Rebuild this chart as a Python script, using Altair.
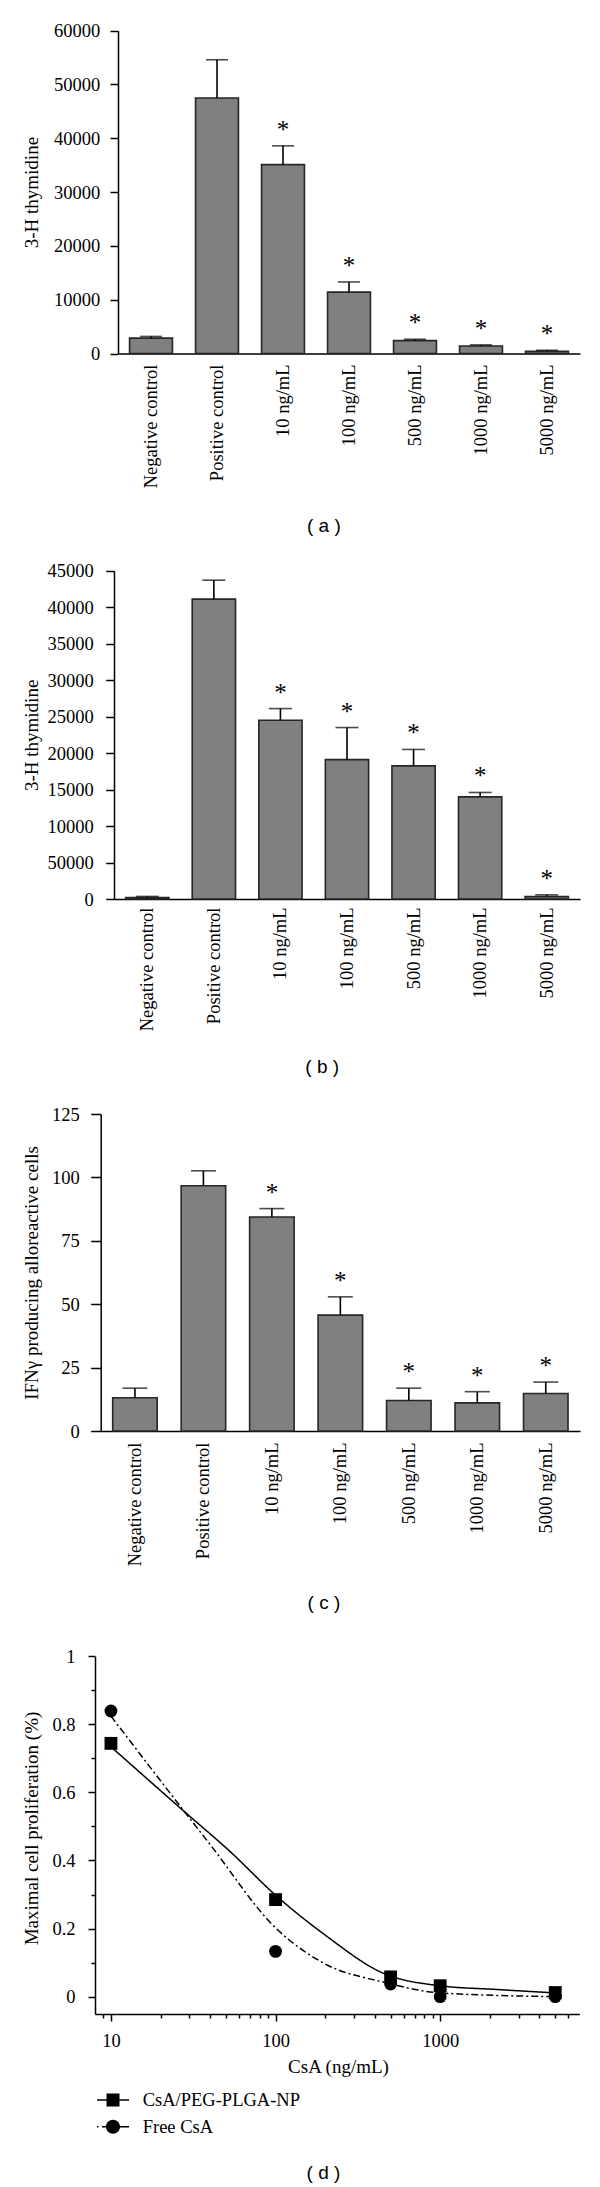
import altair as alt
import pandas as pd

SERIF = "Liberation Serif"
SANS = "Liberation Sans"
M = 8            # page margin
W, H = 584, 2177  # drawing area

# ---------------- data ----------------
categories = ["Negative control", "Positive control", "10 ng/mL", "100 ng/mL",
              "500 ng/mL", "1000 ng/mL", "5000 ng/mL"]
significant = [False, False, True, True, True, True, True]

a_mean = [2850, 47500, 35100, 11400, 2400, 1400, 400]
a_err = [3170, 54600, 38600, 13300, 2650, 1600, 600]
a_ticks = [0, 10000, 20000, 30000, 40000, 50000, 60000]

b_mean = [200, 41100, 24500, 19100, 18250, 14000, 330]
b_err = [350, 43700, 26100, 23500, 20500, 14600, 570]
b_ticks = [0, 5000, 10000, 15000, 20000, 25000, 30000, 35000, 40000, 45000]

c_mean = [13.1, 96.7, 84.4, 45.7, 12.0, 11.1, 14.8]
c_err = [16.9, 102.6, 87.7, 52.9, 16.9, 15.5, 19.3]
c_ticks = [0, 25, 50, 75, 100, 125]

series = ["CsA/PEG-PLGA-NP", "Free CsA"]
d_conc = [10, 100, 500, 1000, 5000]
d_np = [0.744, 0.285, 0.058, 0.032, 0.012]
d_free = [0.839, 0.133, 0.037, 0.0, 0.0]
np_curve_conc = [10, 28, 53, 100, 200, 450, 1000, 2200, 5000]
np_curve_val = [0.734, 0.543, 0.426, 0.298, 0.181, 0.069, 0.032, 0.021, 0.011]
free_curve_conc = [10, 28, 40, 100, 200, 450, 1000, 5000]
free_curve_val = [0.824, 0.543, 0.447, 0.202, 0.096, 0.043, 0.011, 0.0]

d_x_ticks = [9, 10, 20, 30, 40, 50, 60, 70, 80, 90, 100, 200, 300, 400, 500, 600,
             700, 800, 900, 1000, 2000, 3000, 4000, 5000, 6000]
d_y_ticks = [0, 0.1, 0.2, 0.3, 0.4, 0.5, 0.6, 0.7, 0.8, 0.9, 1.0]


def bar_panel(means, errs, ticks, ytitle, letter, axis_x, end_x, top_y, zero_y, letter_x,
              letter_y, cap, label_pad, ytick, ylabel_pad, ylabel_expr=None):
    df = pd.DataFrame({"group": categories, "mean": means, "err": errs, "sig": significant})
    xsc = alt.Scale(range=[axis_x - M, end_x - M], paddingInner=0.35, paddingOuter=0.175)
    ysc = alt.Scale(domain=[0, ticks[-1]], nice=False, range=[zero_y - M, top_y - M])
    xax = alt.Axis(orient="bottom", offset=(zero_y - M) - H,
                   title=letter, titleX=letter_x - M, titleY=letter_y - zero_y,
                   titleFont=SANS, titleFontSize=19, titleFontWeight="normal",
                   titleColor="black", titleBaseline="middle", titleAlign="center",
                   labelAngle=-90, ticks=False, labelPadding=label_pad,
                   labelFont=SERIF, labelFontSize=18.5, labelColor="black",
                   domainColor="black", domainWidth=1.5, labelLimit=300, grid=False)
    ykw = dict(orient="left", offset=-(axis_x - M), title=ytitle, values=ticks, format="d",
               tickSize=ytick, tickWidth=1.5, tickColor="black", domainColor="black",
               domainWidth=1.5, labelPadding=ylabel_pad,
               labelFont=SERIF, labelFontSize=18.5, labelColor="black",
               titleFont=SERIF, titleFontSize=19, titleFontWeight="normal", titleColor="black",
               titleX=31 - axis_x, titleBaseline="middle", grid=False)
    if ylabel_expr:
        ykw["labelExpr"] = ylabel_expr
    yax = alt.Axis(**ykw)
    base = alt.Chart(df).encode(x=alt.X("group:N", sort=categories, scale=xsc, axis=xax))
    bars = base.mark_bar(color="#808080", stroke="#262626", strokeWidth=1.6).encode(
        y=alt.Y("mean:Q", scale=ysc, axis=yax))
    whisk = base.mark_rule(color="black", strokeWidth=1.6).encode(
        y=alt.Y("mean:Q", scale=ysc, axis=yax), y2="err:Q")
    caps = base.mark_tick(color="black", size=cap, thickness=1.6).encode(
        y=alt.Y("err:Q", scale=ysc, axis=yax))
    stars = base.transform_filter("datum.sig").mark_text(
        text="*", font=SERIF, fontSize=25, baseline="alphabetic", dy=-8, color="black").encode(
        y=alt.Y("err:Q", scale=ysc, axis=yax))
    return alt.layer(bars, whisk, caps, stars)


panel_a = bar_panel(a_mean, a_err, a_ticks, "3-H thymidine", "( a )",
                    118, 580, 30.7, 353.5, 323.4, 525, 22, 10.5, 8, 10.3)
panel_b = bar_panel(b_mean, b_err, b_ticks, "3-H thymidine", "( b )",
                    114, 580, 570.7, 899, 321.7, 1066.7, 23, 8, 8.3, 12.4,
                    ylabel_expr="datum.value == 5000 ? '50000' : format(datum.value, 'd')")
panel_c = bar_panel(c_mean, c_err, c_ticks, "IFNγ producing alloreactive cells", "( c )",
                    100.7, 580, 1114, 1431, 323.4, 1602, 25, 11, 10, 11.4)

# ---------------- panel d ----------------
pts_df = pd.DataFrame({"conc": d_conc + d_conc, "val": d_np + d_free,
                       "series": [series[0]] * len(d_conc) + [series[1]] * len(d_conc)})
curve_df = pd.DataFrame({"conc": np_curve_conc + free_curve_conc,
                         "val": np_curve_val + free_curve_val,
                         "series": [series[0]] * len(np_curve_conc) + [series[1]] * len(free_curve_conc)})

d_axis_x, d_end_x, d_top_y, d_bot_y = 95, 579.3, 1656.2, 2014
xsc = alt.Scale(type="log", domain=[8, 7000], nice=False, range=[d_axis_x - M, d_end_x - M])
ysc = alt.Scale(domain=[-0.051, 1], nice=False, zero=False, range=[d_bot_y - M, d_top_y - M])
major_x = "indexof([10,100,1000], datum.value) >= 0"
major_y = "round(datum.value*10) % 2 == 0"
xax = alt.Axis(orient="bottom", offset=(d_bot_y - M) - H,
               title="CsA (ng/mL)", titleX=338 - M, titleY=2066.7 - d_bot_y,
               titleBaseline="middle", titleAlign="center", values=d_x_ticks,
               labelExpr=major_x + " ? format(datum.value, 'd') : ''",
               tickSize={"condition": {"test": major_x, "value": 7}, "value": 4},
               tickWidth=1.5, tickColor="black", domainColor="black", domainWidth=1.5,
               labelBaseline="middle", labelPadding=19, labelFont=SERIF, labelFontSize=18.5,
               labelColor="black", titleFont=SERIF, titleFontSize=19, titleFontWeight="normal",
               titleColor="black", grid=False, labelFlush=False, labelOverlap=False)
yax = alt.Axis(orient="left", offset=-(d_axis_x - M),
               title="Maximal cell proliferation (%)", values=d_y_ticks,
               labelExpr=major_y + " ? format(datum.value, '~g') : ''",
               tickSize={"condition": {"test": major_y, "value": 7}, "value": 4},
               tickWidth=1.5, tickColor="black", domainColor="black", domainWidth=1.5,
               labelPadding=13, labelFont=SERIF, labelFontSize=18.5, labelColor="black",
               titleFont=SERIF, titleFontSize=19, titleFontWeight="normal", titleColor="black",
               titleX=31 - d_axis_x, titleY=1828 - M, titleBaseline="middle", grid=False,
               labelOverlap=False)
xenc = alt.X("conc:Q", scale=xsc, axis=xax)
yenc = alt.Y("val:Q", scale=ysc, axis=yax)

lines = alt.Chart(curve_df).mark_line(color="black", strokeWidth=1.5, interpolate="monotone").encode(
    x=xenc, y=yenc,
    strokeDash=alt.StrokeDash("series:N", scale=alt.Scale(domain=series, range=[[1, 0], [7, 3, 2, 3]]),
                              legend=None))
points = alt.Chart(pts_df).mark_point(filled=True, color="black", size=165, opacity=1).encode(
    x=xenc, y=yenc,
    shape=alt.Shape("series:N", scale=alt.Scale(domain=series, range=["square", "circle"]),
                    legend=None))

PATH_SQ = "M-1.6,-0.075H1.6V0.075H-1.6Z M-0.65,-0.65H0.65V0.65H-0.65Z"
PATH_CI = ("M-1.6,-0.075H-1.45V0.075H-1.6Z M-1.1,-0.075H1.6V0.075H-1.1Z "
           "M-0.7,0A0.7,0.7,0,1,1,0.7,0A0.7,0.7,0,1,1,-0.7,0Z")
xsc_lab = alt.Scale(type="log", domain=[8, 7000], nice=False, range=[d_axis_x - M, d_end_x - M])
xax_lab = alt.Axis(orient="bottom", offset=(d_bot_y - M) - H, title="( d )",
                   titleX=323 - M, titleY=2172 - d_bot_y, titleBaseline="middle",
                   titleAlign="center", titleFont=SANS, titleFontSize=19,
                   titleFontWeight="normal", titleColor="black",
                   domain=False, ticks=False, labels=False, grid=False)
legend_layer = alt.Chart(pts_df).transform_filter("false").mark_point(
    filled=True, color="black", opacity=1).encode(
    x=alt.X("conc:Q", scale=xsc_lab, axis=xax_lab), y=yenc,
    shape=alt.Shape("series:N", scale=alt.Scale(domain=series, range=[PATH_SQ, PATH_CI]),
                    legend=alt.Legend(title=None, orient="none", legendX=113 - 10 - M,
                                      legendY=2100 - 10 - M,
                                      direction="vertical", symbolSize=400, padding=0,
                                      labelFont=SERIF, labelFontSize=18.5, labelColor="black",
                                      labelOffset=19.7, rowPadding=6.7,
                                      symbolFillColor="black", symbolStrokeWidth=0)))

panel_d = alt.layer(alt.layer(lines, points), legend_layer).resolve_scale(
    x="independent", shape="independent", strokeDash="independent")

chart = alt.layer(panel_a, panel_b, panel_c, panel_d).resolve_scale(
    x="independent", y="independent", shape="independent", strokeDash="independent"
).properties(
    width=W, height=H, padding=0, autosize=alt.AutoSizeParams(type="none")
).configure_view(stroke=None)

chart.save("out.html", embed_options={"renderer": "svg", "actions": False})
